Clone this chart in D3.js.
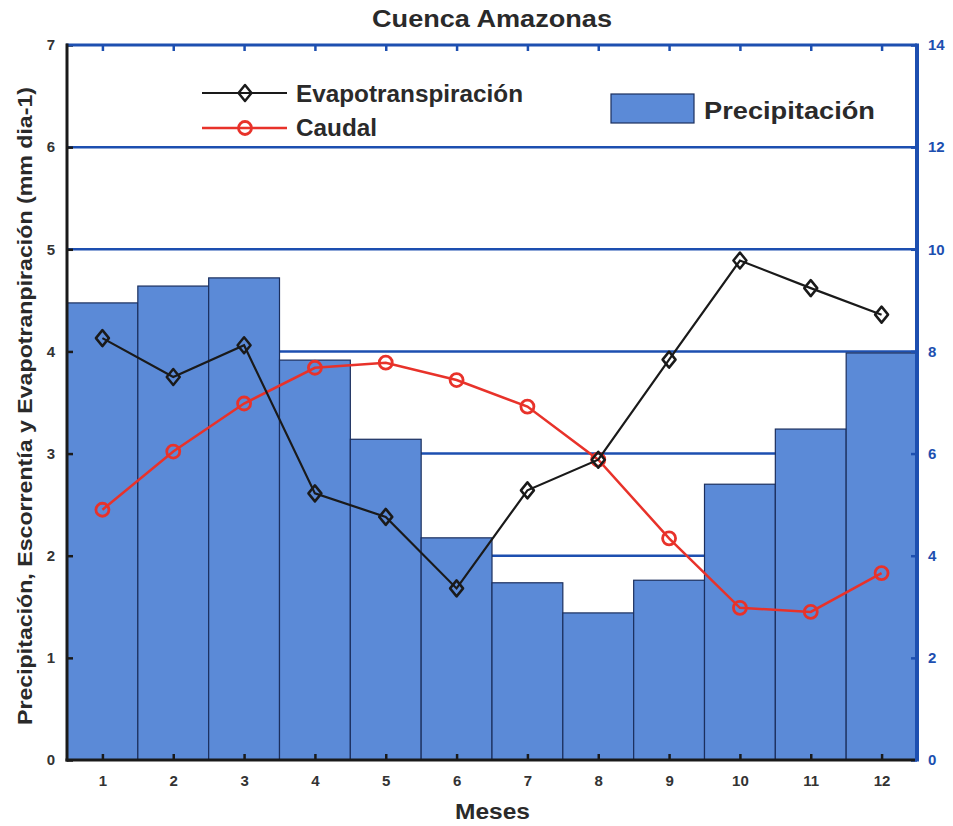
<!DOCTYPE html>
<html>
<head>
<meta charset="utf-8">
<script src="https://cdn.jsdelivr.net/npm/d3@7"></script>
<style>
  html, body { margin: 0; padding: 0; background: #ffffff; }
  svg { display: block; font-family: "Liberation Sans", Arial, Helvetica, sans-serif; font-weight: bold; }
</style>
</head>
<body>
<svg id="chart" width="953" height="826"></svg>
<script>
// ---------- data ----------
const months = [1, 2, 3, 4, 5, 6, 7, 8, 9, 10, 11, 12];
const precipitacion = [8.95, 9.28, 9.44, 7.83, 6.28, 4.35, 3.47, 2.88, 3.52, 5.40, 6.48, 7.97]; // right axis
const evapotranspiracion = [4.13, 3.75, 4.06, 2.61, 2.38, 1.68, 2.64, 2.94, 3.92, 4.89, 4.62, 4.36]; // left axis
const caudal = [2.45, 3.02, 3.49, 3.84, 3.89, 3.72, 3.46, 2.94, 2.17, 1.49, 1.45, 1.83]; // left axis
const leftTicks = [0, 1, 2, 3, 4, 5, 6, 7];
const rightTicks = [0, 2, 4, 6, 8, 10, 12, 14];
const title = "Cuenca Amazonas";
const xLabel = "Meses";
const yLabel = "Precipitación, Escorrentía y Evapotranpiración (mm dia-1)";

// ---------- layout ----------
const L = 67, R = 917, T = 45, B = 760;
const svg = d3.select("#chart");

const x = d3.scaleLinear().domain([0.5, 12.5]).range([L, R]);
const yL = d3.scaleLinear().domain([0, 7]).range([B, T]);
const yR = d3.scaleLinear().domain([0, 14]).range([B, T]);

const blue = "#1d4fb0";
const dark = "#1a1a1a";
const textCol = "#2a2a2a";

// gridlines
svg.append("g").selectAll("line").data(leftTicks.filter(d => d > 0 && d < 7)).join("line")
  .attr("x1", L).attr("x2", R)
  .attr("y1", d => yL(d)).attr("y2", d => yL(d))
  .attr("stroke", blue).attr("stroke-width", 2.5);

// bars
const bw = x(1.5) - x(0.5);
svg.append("g").selectAll("rect").data(months).join("rect")
  .attr("x", (d) => x(d) - bw / 2)
  .attr("width", bw)
  .attr("y", (d, i) => yR(precipitacion[i]))
  .attr("height", (d, i) => B - yR(precipitacion[i]))
  .attr("fill", "#5b8ad7")
  .attr("stroke", "#1b2f5e").attr("stroke-width", 1.2);

// axes
function styleText(g, col) {
  g.selectAll("text").attr("fill", col).attr("font-size", 15).attr("font-weight", "bold")
    .attr("font-family", "Liberation Sans, Arial, sans-serif");
}
const axLeft = d3.axisLeft(yL).tickValues(leftTicks).tickSize(-6).tickPadding(12).tickFormat(d3.format("d"));
const gL = svg.append("g").attr("transform", `translate(${L},0)`).call(axLeft);
gL.select(".domain").remove();
gL.selectAll("line").attr("stroke", dark).attr("stroke-width", 2.5);
styleText(gL, "#333");

const axRight = d3.axisRight(yR).tickValues(rightTicks).tickSize(-6).tickPadding(11).tickFormat(d3.format("d"));
const gR = svg.append("g").attr("transform", `translate(${R},0)`).call(axRight);
gR.select(".domain").remove();
gR.selectAll("line").attr("stroke", blue).attr("stroke-width", 2.5);
styleText(gR, blue);

const axBottom = d3.axisBottom(x).tickValues(months).tickSize(-6).tickPadding(15).tickFormat(d3.format("d"));
const gB = svg.append("g").attr("transform", `translate(0,${B})`).call(axBottom);
gB.select(".domain").remove();
gB.selectAll("line").attr("stroke", dark).attr("stroke-width", 2.5);
styleText(gB, "#333");

const axTop = d3.axisTop(x).tickValues(months).tickSize(-6).tickFormat("");
const gT = svg.append("g").attr("transform", `translate(0,${T})`).call(axTop);
gT.select(".domain").remove();
gT.selectAll("line").attr("stroke", blue).attr("stroke-width", 2.5);

// frame
svg.append("line").attr("x1", L - 1).attr("x2", R).attr("y1", T).attr("y2", T).attr("stroke", blue).attr("stroke-width", 3);
svg.append("line").attr("x1", R).attr("x2", R).attr("y1", T - 1.5).attr("y2", B + 1.5).attr("stroke", blue).attr("stroke-width", 4);
svg.append("line").attr("x1", L).attr("x2", L).attr("y1", T - 1.5).attr("y2", B + 1.5).attr("stroke", dark).attr("stroke-width", 3);
svg.append("line").attr("x1", L - 1.5).attr("x2", R - 2).attr("y1", B).attr("y2", B).attr("stroke", dark).attr("stroke-width", 3);

// lines
const lineL = (arr) => d3.line().x((d, i) => x(months[i])).y(d => yL(d))(arr);
const red = "#e8322a";

svg.append("path").attr("d", lineL(caudal)).attr("fill", "none").attr("stroke", red).attr("stroke-width", 2.5);
svg.append("g").selectAll("circle").data(caudal).join("circle")
  .attr("cx", (d, i) => x(months[i])).attr("cy", d => yL(d)).attr("r", 6.5)
  .attr("fill", "none").attr("stroke", red).attr("stroke-width", 2.8);

svg.append("path").attr("d", lineL(evapotranspiracion)).attr("fill", "none").attr("stroke", dark).attr("stroke-width", 2.2);
const diamond = "M0,-8 L6.5,0 L0,8 L-6.5,0 Z";
svg.append("g").selectAll("path").data(evapotranspiracion).join("path")
  .attr("transform", (d, i) => `translate(${x(months[i])},${yL(d)})`)
  .attr("d", diamond).attr("fill", "none").attr("stroke", dark).attr("stroke-width", 2.5)
  .attr("stroke-linejoin", "round");

// legend
const lg = svg.append("g");
lg.append("line").attr("x1", 202).attr("x2", 287).attr("y1", 93).attr("y2", 93).attr("stroke", dark).attr("stroke-width", 2.2);
lg.append("path").attr("transform", "translate(245,93)").attr("d", diamond).attr("fill", "none").attr("stroke", dark).attr("stroke-width", 2.5).attr("stroke-linejoin", "round");
lg.append("text").attr("x", 296).attr("y", 102).attr("font-size", 23).attr("fill", textCol)
  .attr("textLength", 227).attr("lengthAdjust", "spacingAndGlyphs").text("Evapotranspiración");
lg.append("line").attr("x1", 202).attr("x2", 287).attr("y1", 128).attr("y2", 128).attr("stroke", red).attr("stroke-width", 2.5);
lg.append("circle").attr("cx", 245).attr("cy", 128).attr("r", 6.5).attr("fill", "none").attr("stroke", red).attr("stroke-width", 2.8);
lg.append("text").attr("x", 296).attr("y", 136).attr("font-size", 23).attr("fill", textCol)
  .attr("textLength", 81).attr("lengthAdjust", "spacingAndGlyphs").text("Caudal");
lg.append("rect").attr("x", 611).attr("y", 94).attr("width", 83).attr("height", 29)
  .attr("fill", "#5b8ad7").attr("stroke", "#1b2f5e").attr("stroke-width", 1.2);
lg.append("text").attr("x", 704).attr("y", 119).attr("font-size", 24).attr("fill", textCol)
  .attr("textLength", 171).attr("lengthAdjust", "spacingAndGlyphs").text("Precipitación");

// titles
svg.append("text").attr("x", 372).attr("y", 27).attr("font-size", 23).attr("fill", textCol)
  .attr("textLength", 240).attr("lengthAdjust", "spacingAndGlyphs").text(title);
svg.append("text").attr("x", 455).attr("y", 819).attr("font-size", 22).attr("fill", textCol)
  .attr("textLength", 75).attr("lengthAdjust", "spacingAndGlyphs").text(xLabel);
svg.append("text").attr("transform", "translate(32,725) rotate(-90)").attr("x", 0).attr("y", 0)
  .attr("font-size", 20).attr("fill", textCol)
  .attr("textLength", 638).attr("lengthAdjust", "spacingAndGlyphs").text(yLabel);
</script>
</body>
</html>
